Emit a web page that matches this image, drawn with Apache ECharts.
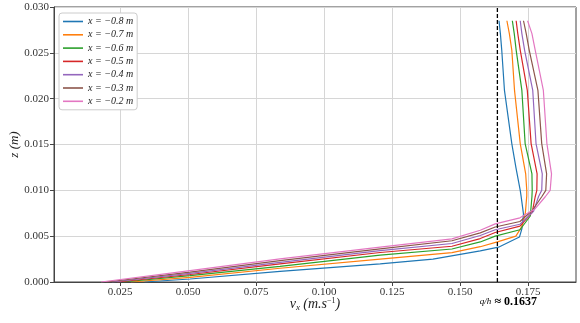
<!DOCTYPE html>
<html>
<head>
<meta charset="utf-8">
<script src="https://cdn.jsdelivr.net/npm/echarts@6/dist/echarts.min.js"></script>
<style>
html, body { margin: 0; padding: 0; background: #fff; }
#chart { width: 580px; height: 323px; }
</style>
</head>
<body>
<div id="chart"></div>
<script>
// velocity profiles, [vx, z] pairs
const names = ["x = −0.8 m", "x = −0.7 m", "x = −0.6 m", "x = −0.5 m", "x = −0.4 m", "x = −0.3 m", "x = −0.2 m"];

const profM08 = [[0.034, 0], [0.0507, 0.00033], [0.0838, 0.00116], [0.1206, 0.00197], [0.140, 0.0025], [0.1574, 0.0034],
  [0.1641, 0.0038], [0.1718, 0.0049], [0.1727, 0.0058], [0.1733, 0.0074], [0.1724, 0.0094], [0.1721, 0.0100],
  [0.1705, 0.0125], [0.1690, 0.0151], [0.1663, 0.0209], [0.1653, 0.0253], [0.1648, 0.0271], [0.1643, 0.0285]];
const profM07 = [[0.029, 0], [0.0507, 0.0005], [0.0838, 0.0015], [0.1206, 0.0025], [0.147, 0.0032], [0.1574, 0.00385],
  [0.1640, 0.0044], [0.1705, 0.0050], [0.1728, 0.0061], [0.1740, 0.0076], [0.1745, 0.0094], [0.1745, 0.0100],
  [0.1741, 0.0118], [0.1721, 0.0151], [0.1700, 0.0209], [0.1690, 0.0253], [0.1681, 0.0271], [0.1672, 0.0285]];
const profM06 = [[0.026, 0], [0.0507, 0.00069], [0.0838, 0.00171], [0.1206, 0.00293], [0.147, 0.0036], [0.1574, 0.00437],
  [0.1629, 0.0050], [0.1720, 0.0057], [0.1758, 0.0072], [0.1764, 0.0093], [0.1765, 0.0100], [0.1764, 0.0118],
  [0.1739, 0.0151], [0.1727, 0.0209], [0.1706, 0.0253], [0.1699, 0.0271], [0.1692, 0.0285]];
const profM05 = [[0.024, 0], [0.0507, 0.00082], [0.0838, 0.00197], [0.1206, 0.00322], [0.147, 0.0039], [0.1574, 0.00474],
  [0.1629, 0.0054], [0.1720, 0.0061], [0.1765, 0.0076], [0.1776, 0.0093], [0.1782, 0.0100], [0.1783, 0.0118],
  [0.1761, 0.0151], [0.1747, 0.0209], [0.1721, 0.0253], [0.1712, 0.0271], [0.1706, 0.0285]];
const profM04 = [[0.022, 0], [0.0507, 0.00094], [0.0838, 0.00215], [0.1206, 0.00342], [0.147, 0.0042], [0.1574, 0.00507],
  [0.1629, 0.0057], [0.1720, 0.0063], [0.1770, 0.0077], [0.1788, 0.0093], [0.1800, 0.0100], [0.1802, 0.0118],
  [0.1779, 0.0151], [0.1767, 0.0209], [0.1737, 0.0253], [0.1727, 0.0271], [0.1721, 0.0285]];
const profM03 = [[0.020, 0], [0.0507, 0.00107], [0.0838, 0.00233], [0.1206, 0.00362], [0.147, 0.0045], [0.1574, 0.00536],
  [0.1629, 0.0060], [0.1720, 0.0066], [0.1765, 0.0078], [0.1800, 0.0093], [0.1815, 0.0100], [0.1818, 0.0118],
  [0.1800, 0.0151], [0.1786, 0.0209], [0.1754, 0.0253], [0.1743, 0.0271], [0.1733, 0.0285]];
const profM02 = [[0.018, 0], [0.0507, 0.00124], [0.0838, 0.00252], [0.1206, 0.0038], [0.147, 0.0047], [0.1574, 0.00565],
  [0.1629, 0.00634], [0.1720, 0.0070], [0.1776, 0.0080], [0.1813, 0.0093], [0.1831, 0.0100], [0.1836, 0.0118],
  [0.1819, 0.0151], [0.1806, 0.0209], [0.1776, 0.0253], [0.1764, 0.0271], [0.1748, 0.0285]];

const profiles = [profM08, profM07, profM06, profM05, profM04, profM03, profM02];
const colors = ["#1f77b4", "#ff7f0e", "#2ca02c", "#d62728", "#9467bd", "#8c564b", "#e377c2"];

const xTicks = [0.025, 0.05, 0.075, 0.1, 0.125, 0.15, 0.175];
const zRange = [0, 0.03];
const qOverH = 0.1637;

const serif = "'Liberation Serif', 'DejaVu Serif', serif";

var chart = echarts.init(document.getElementById("chart"));

var series = profiles.map(function (p, i) {
  return {
    name: names[i],
    type: "line",
    data: p,
    symbol: "none",
    showSymbol: false,
    lineStyle: { color: colors[i], width: 1.2 },
    itemStyle: { color: colors[i] },
    z: 3,
  };
});

// dashed q/h line, label hangs under the axis
series.push({
  name: "qh",
  type: "line",
  clip: false,
  symbol: "circle",
  symbolSize: 0.1,
  lineStyle: { color: "#000", type: [4, 2], width: 1.3 },
  itemStyle: { color: "#000" },
  z: 4,
  data: [
    {
      value: [qOverH, zRange[0]],
      label: {
        show: true,
        position: "bottom",
        distance: 14,
        padding: [0, 0, 0, 22],
        formatter: "{f|q/h} {b|≈ 0.1637}",
        rich: {
          f: { fontFamily: serif, fontStyle: "italic", fontSize: 9, color: "#000" },
          b: { fontFamily: serif, fontWeight: "bold", fontSize: 12, color: "#000" },
        },
      },
    },
    [qOverH, zRange[1]],
  ],
});

var option = {
  animation: false,
  backgroundColor: "#fff",
  grid: {
    left: 54, right: 4, top: 7, bottom: 41,
    containLabel: false, outerBoundsMode: "none",
    show: true, borderColor: "#444", borderWidth: 1,
  },
  legend: {
    orient: "vertical",
    left: 59,
    top: 13,
    padding: [3, 4, 3, 4],
    icon: "rect",
    itemWidth: 20,
    itemHeight: 1.6,
    itemGap: 2.3,
    backgroundColor: "#fff",
    borderColor: "#ccc",
    borderWidth: 1,
    borderRadius: 3,
    textStyle: { fontFamily: serif, fontStyle: "italic", fontSize: 10, color: "#222", lineHeight: 11 },
    data: names,
  },
  xAxis: {
    type: "value",
    min: 0.0007,
    max: 0.1926,
    name: "{v|v}{s|x} {p|(m.s}{e|−1}{p|)}",
    nameLocation: "middle",
    nameGap: 15,
    nameMoveOverlap: false,
    nameTextStyle: {
      rich: {
        v: { fontFamily: serif, fontStyle: "italic", fontSize: 14, color: "#222" },
        s: { fontFamily: serif, fontStyle: "italic", fontSize: 9, color: "#222", verticalAlign: "bottom", padding: [6, 0, 0, 0] },
        p: { fontFamily: serif, fontStyle: "italic", fontSize: 14, color: "#222" },
        e: { fontFamily: serif, fontSize: 8, color: "#222", verticalAlign: "top", padding: [0, 0, 6, 0] },
      },
    },
    axisLine: { show: true, lineStyle: { color: "#444" } },
    axisTick: { show: true, inside: false, length: 4, customValues: xTicks, lineStyle: { color: "#444" } },
    axisLabel: {
      customValues: xTicks,
      fontFamily: serif,
      fontSize: 11,
      color: "#333",
      margin: 5,
      formatter: function (v) { return v.toFixed(3); },
    },
    splitLine: { show: true, lineStyle: { color: "#d6d6d6", width: 1 } },
  },
  yAxis: {
    type: "value",
    min: zRange[0],
    max: zRange[1],
    interval: 0.005,
    name: "z (m)",
    nameLocation: "middle",
    nameGap: 33,
    nameMoveOverlap: false,
    nameTextStyle: { fontFamily: serif, fontStyle: "italic", fontSize: 13, color: "#222" },
    axisLine: { show: true, lineStyle: { color: "#444" } },
    axisTick: { show: true, inside: false, length: 4, lineStyle: { color: "#444" } },
    axisLabel: {
      fontFamily: serif,
      fontSize: 11,
      color: "#333",
      margin: 5,
      formatter: function (v) { return v.toFixed(3); },
    },
    splitLine: { show: true, lineStyle: { color: "#d6d6d6", width: 1 } },
  },
  series: series,
};

chart.setOption(option);
</script>
</body>
</html>
